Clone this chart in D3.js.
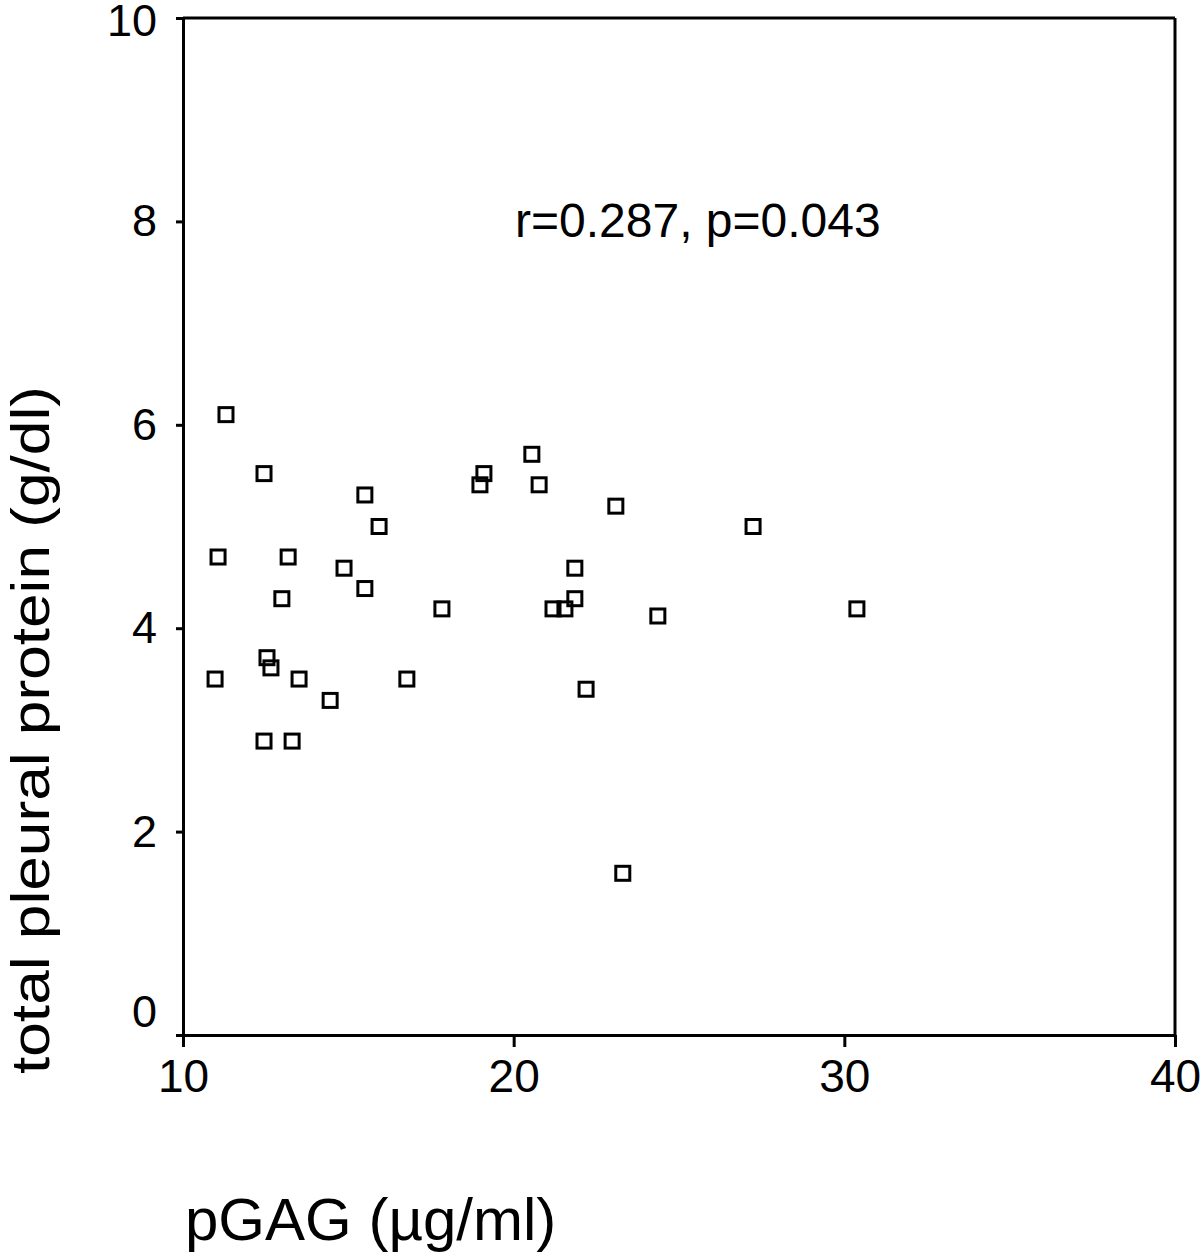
<!DOCTYPE html>
<html>
<head>
<meta charset="utf-8">
<script src="https://cdn.jsdelivr.net/npm/d3@7"></script>
<style>
html,body{margin:0;padding:0;background:#fff;}
svg{display:block;font-family:"Liberation Sans",Arial,sans-serif;}
</style>
</head>
<body>
<svg id="chart" width="1200" height="1256"></svg>
<script>
const pgag = [11.30,11.06,10.97,12.45,12.54,12.66,12.45,12.99,13.18,13.51,13.30,14.45,14.87,15.50,15.50,15.93,16.77,17.83,18.98,19.10,20.55,20.77,21.19,21.55,21.85,21.85,22.19,23.09,23.30,24.36,27.24,30.38];
const protein = [6.10,4.70,3.50,5.52,3.71,3.61,2.89,4.29,4.70,3.50,2.89,3.29,4.59,5.31,4.39,5.00,3.50,4.19,5.41,5.52,5.71,5.41,4.19,4.19,4.59,4.29,3.40,5.20,1.59,4.12,5.00,4.19];
const xTicks = [10,20,30,40];
const yTicks = [0,2,4,6,8,10];
const xTitle = "pGAG (µg/ml)";
const yTitle = "total pleural protein (g/dl)";
const annotation = "r=0.287, p=0.043";

const svg = d3.select("#chart");
const mLeft = 183, mRight = 1175, mTop = 18, mBottom = 1035;
const x = d3.scaleLinear().domain([10,40]).range([mLeft,mRight]);
const y = d3.scaleLinear().domain([0,10]).range([mBottom,mTop]);

// frame top & right
svg.append("line").attr("x1",mLeft).attr("x2",mRight).attr("y1",mTop).attr("y2",mTop)
  .attr("stroke","#000").attr("stroke-width",3);
svg.append("line").attr("x1",mRight).attr("x2",mRight).attr("y1",mTop).attr("y2",mBottom)
  .attr("stroke","#000").attr("stroke-width",3);

// x axis
const xa = svg.append("g").attr("transform",`translate(0,${mBottom})`)
  .call(d3.axisBottom(x).tickValues(xTicks).tickFormat(d3.format("d")).tickSize(12).tickSizeOuter(0).tickPadding(12));
xa.select(".domain").attr("stroke-width",3);
xa.selectAll(".tick line").attr("stroke-width",3);
xa.selectAll(".tick text").attr("font-size",46).attr("font-family","Liberation Sans, Arial, sans-serif").attr("fill","#000");

// y axis
const ya = svg.append("g").attr("transform",`translate(${mLeft},0)`)
  .call(d3.axisLeft(y).tickValues(yTicks).tickFormat(d3.format("d")).tickSize(7).tickSizeOuter(0).tickPadding(19));
ya.select(".domain").attr("stroke-width",3);
ya.selectAll(".tick line").attr("stroke-width",3);
ya.selectAll(".tick text").attr("font-size",45).attr("font-family","Liberation Sans, Arial, sans-serif").attr("fill","#000")
  .attr("dy", d => d === 0 ? "-0.2em" : (d === 10 ? "0.38em" : "0.32em"));

// points
svg.append("g").selectAll("rect").data(pgag.map((v,i)=>[v,protein[i]])).join("rect")
  .attr("x", d => x(d[0]) - 7).attr("y", d => y(d[1]) - 7)
  .attr("width",14).attr("height",14)
  .attr("fill","none").attr("stroke","#000").attr("stroke-width",3);

// annotation
svg.append("text").attr("x",515).attr("y",237).attr("font-size",48).attr("fill","#000").text(annotation);

// titles
svg.append("text").attr("x",185).attr("y",1240).attr("font-size",60).attr("fill","#000").text(xTitle);
svg.append("text").attr("transform","translate(49,730) rotate(-90)").attr("text-anchor","middle")
  .attr("font-size",54).attr("textLength",688).attr("lengthAdjust","spacingAndGlyphs")
  .attr("fill","#000").text(yTitle);
</script>
</body>
</html>
